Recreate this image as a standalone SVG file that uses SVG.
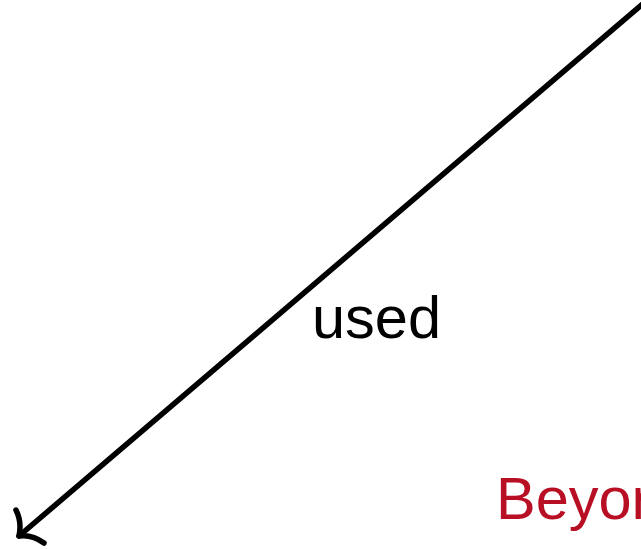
<svg xmlns="http://www.w3.org/2000/svg" width="641" height="549" viewBox="0 0 641 549">
<style>
.edge{fill:none;stroke:#000;stroke-width:5.5;stroke-linecap:round;stroke-linejoin:round}
.lbl{font-family:"Liberation Sans",Arial,sans-serif;font-size:59.5px;fill:#000}
.red{font-family:"Liberation Sans",Arial,sans-serif;font-size:59.5px;fill:#b80f24}
</style>
<rect width="641" height="549" fill="#fff"/>
<g id="connectors">
<path class="edge" d="M645 2 L19 536"/>
<path class="edge" d="M16 510 Q22 522 19 536 Q32 534 44 543"/>
<text class="lbl" x="312" y="338">used</text>
</g>
<g id="node-beyond">
<text class="red" x="496" y="519">Beyond</text>
</g>
</svg>
